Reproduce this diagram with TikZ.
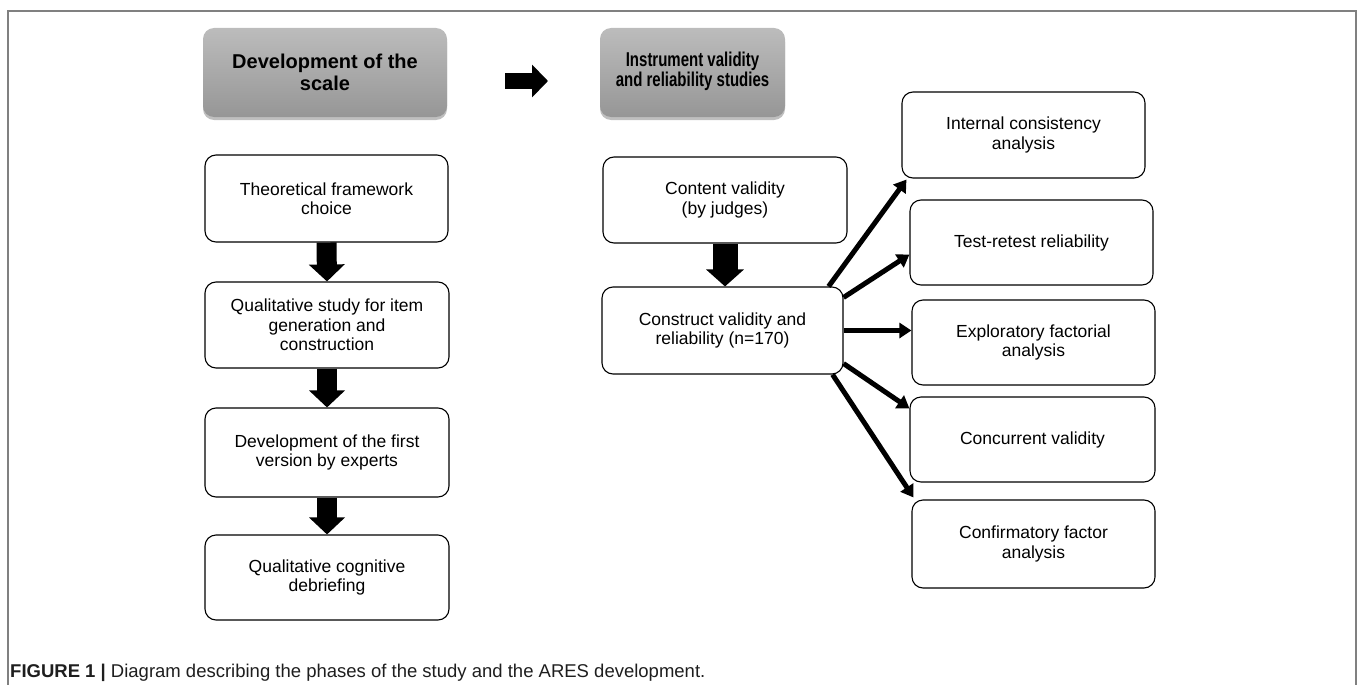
\documentclass[tikz,border=0pt]{standalone}
\usepackage{fontspec}
\setmainfont{Liberation Sans}
\usetikzlibrary{arrows.meta,shadows}
\definecolor{hdrtop}{RGB}{188,188,188}
\definecolor{hdrbot}{RGB}{150,150,150}
\definecolor{framegray}{RGB}{128,128,128}
\definecolor{captext}{RGB}{30,30,30}
\begin{document}
\begin{tikzpicture}[x=1pt,y=-1pt,
  box/.style={draw=black, line width=1.1pt, rounded corners=11pt, fill=white, align=center,
    font=\fontsize{17.5}{19.5}\selectfont, inner sep=0pt},
  hdr/.style={rounded corners=11pt, top color=hdrtop, bottom color=hdrbot, align=center,
    font=\fontsize{20}{22}\selectfont\bfseries, inner sep=0pt,
    drop shadow={shadow xshift=0pt, shadow yshift=-3pt, opacity=0.25, fill=black}},
  blk/.style={line width=20pt, -{Triangle[width=35pt,length=17pt]}},
  fan/.style={line width=5pt, -{Triangle[width=15pt,length=12pt]}}
]
\useasboundingbox (0,0) rectangle (1357,685);
% frame
\draw[framegray, line width=2pt] (8,690) -- (8,10.7) -- (1355.5,10.7) -- (1355.5,690);

% headers
\node[hdr, minimum width=244pt, minimum height=89pt] (h1) at (325,72.5) {Development of the\\scale};
\node[hdr, minimum width=185pt, minimum height=89pt] (h2) at (692.5,72.5)
  {\scalebox{0.75}[1]{\begin{tabular}{@{}c@{}}Instrument validity\\[-2pt]and reliability studies\end{tabular}}};
\coordinate (ba1) at (505,81);
\coordinate (ba2) at (548,81);
\draw[line width=16pt, -{Triangle[width=32pt,length=16pt]}] (ba1) -- (ba2);

% left column
\node[box, minimum width=243pt, minimum height=87pt] (t1) at (326.5,198.5) {Theoretical framework\\choice};
\node[box, minimum width=244pt, minimum height=86pt] (t2) at (327,325) {Qualitative study for item\\generation and\\construction};
\node[box, minimum width=244pt, minimum height=89pt] (t3) at (327,452.5) {Development of the first\\version by experts};
\node[box, minimum width=244pt, minimum height=85pt] (t4) at (327,577.5) {Qualitative cognitive\\debriefing};
\draw[blk] (t1.south) -- (t2.north);
\draw[blk] (t2.south) -- (t3.north);
\draw[blk] (t3.south) -- (t4.north);

% middle column
\node[box, minimum width=244pt, minimum height=86pt] (c1) at (725,200) {Content validity\\(by judges)};
\node[box, minimum width=241pt, minimum height=87pt] (c2) at (722.5,330.5) {Construct validity and\\reliability (n=170)};
\draw[line width=25pt, -{Triangle[width=37pt,length=17pt]}] (c1.south) -- (c1.south |- c2.north);

% right column
\node[box, minimum width=243pt, minimum height=86pt] (r1) at (1023.5,135) {Internal consistency\\analysis};
\node[box, minimum width=243pt, minimum height=85pt] (r2) at (1031.5,242.5) {Test-retest reliability};
\node[box, minimum width=243pt, minimum height=85pt] (r3) at (1033.5,342.5) {Exploratory factorial\\analysis};
\node[box, minimum width=245pt, minimum height=85pt] (r4) at (1032.5,439.5) {Concurrent validity};
\node[box, minimum width=243pt, minimum height=88pt] (r5) at (1033.5,544) {Confirmatory factor\\analysis};

\draw[fan] ([xshift=-15pt]c2.north east) -- ([xshift=5pt,yshift=-1pt]r1.south west);
\draw[fan] ([yshift=-11pt]c2.north east) -- ([yshift=-12pt]r2.west);
\draw[fan] (c2.east) -- (r3.west |- c2.east);
\draw[fan] ([yshift=11pt]c2.south east) -- ([yshift=-12pt]r4.north west);
\draw[fan] ([xshift=-11pt]c2.south east) -- ([xshift=2pt,yshift=2pt]r5.north west);

% caption
\node[anchor=base west, inner sep=0pt, text=captext, font=\fontsize{18.5}{20}\selectfont] (cap) at (10,677.5)
  {\textbf{FIGURE 1 |} Diagram describing the phases of the study and the ARES development.};
\end{tikzpicture}
\end{document}
